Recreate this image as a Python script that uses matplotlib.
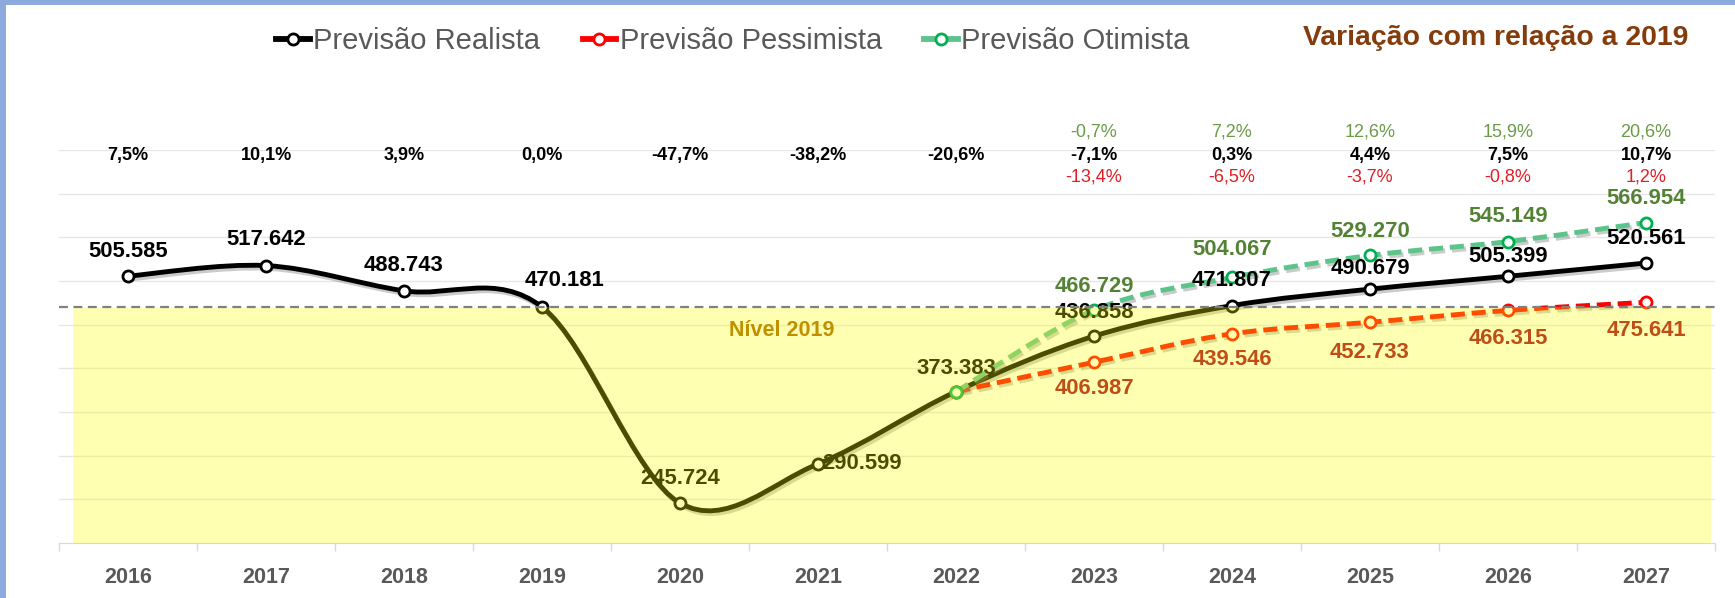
import numpy as np
import matplotlib
matplotlib.use('Agg')
import matplotlib.pyplot as plt
from matplotlib.path import Path
from matplotlib.patches import PathPatch, Rectangle
from matplotlib.lines import Line2D
import matplotlib.patheffects as pe
import matplotlib.transforms as mtransforms

plt.rcParams['font.family'] = ['Liberation Sans', 'DejaVu Sans']

# ---- data ----
anos = ['2016', '2017', '2018', '2019', '2020', '2021', '2022',
        '2023', '2024', '2025', '2026', '2027']
realista = [505585, 517642, 488743, 470181, 245724, 290599, 373383,
            436858, 471807, 490679, 505399, 520561]
pessimista = [373383, 406987, 439546, 452733, 466315, 475641]   # 2022-2027
otimista = [373383, 466729, 504067, 529270, 545149, 566954]     # 2022-2027
nivel_2019 = 470181

var_realista = ['7,5%', '10,1%', '3,9%', '0,0%', '-47,7%', '-38,2%', '-20,6%',
                '-7,1%', '0,3%', '4,4%', '7,5%', '10,7%']
var_pessimista = ['-13,4%', '-6,5%', '-3,7%', '-0,8%', '1,2%']   # 2023-2027
var_otimista = ['-0,7%', '7,2%', '12,6%', '15,9%', '20,6%']      # 2023-2027

x_all = np.arange(len(anos))
x_prev = x_all[6:]


def smooth_path(x, y):
    # excel-like smoothed line (cubic bezier through the points)
    pts = np.column_stack([x, y]).astype(float)
    n = len(pts)
    verts = [pts[0]]
    codes = [Path.MOVETO]
    for i in range(n - 1):
        p0 = pts[max(i - 1, 0)]
        p3 = pts[min(i + 2, n - 1)]
        c1 = pts[i] + (pts[i + 1] - p0) / 6
        c2 = pts[i + 1] - (p3 - pts[i]) / 6
        verts += [c1, c2, pts[i + 1]]
        codes += [Path.CURVE4] * 3
    return Path(verts, codes)


fig = plt.figure(figsize=(17.35, 5.98), dpi=100)
fig.patch.set_facecolor('white')
ax = fig.add_axes([59/1735, 1-543/598, (1715-59)/1735, (543-150)/598])
ax.set_xlim(-0.5, 11.5)
ax.set_ylim(200000, 650000)

# frame of the picture
fig.add_artist(Rectangle((0, 1-5/598), 1, 5/598, transform=fig.transFigure,
                         color='#8EA9DB', lw=0))
fig.add_artist(Rectangle((0, 0), 6/1735, 1, transform=fig.transFigure,
                         color='#8EA9DB', lw=0))

# grid / axes
ax.set_yticks(np.arange(250000, 650001, 50000))
ax.yaxis.grid(True, color='#E6E6E6', lw=1)
ax.tick_params(axis='y', left=False, labelleft=False)
for s in ['left', 'right', 'top']:
    ax.spines[s].set_visible(False)
ax.spines['bottom'].set_color('#D9D9D9')
ax.set_xticks(x_all)
ax.set_xticklabels(anos, fontsize=15.5, fontweight='bold', color='#595959')
ax.tick_params(axis='x', length=0, pad=17.5)
ax.set_xticks(np.arange(-0.5, 12, 1), minor=True)
ax.tick_params(axis='x', which='minor', length=6, color='#D9D9D9', width=1)
ax.set_axisbelow(True)

shadow = [pe.SimpleLineShadow(offset=(1.5, -2), shadow_color='#7F7F7F', alpha=0.4),
          pe.Normal()]

# lines
ax.add_patch(PathPatch(smooth_path(x_all, realista), fill=False, edgecolor='black',
                       lw=3.5, zorder=3, path_effects=shadow, capstyle='round'))
ax.add_patch(PathPatch(smooth_path(x_prev, pessimista), fill=False, edgecolor='#FF0000',
                       lw=3.5, ls=(0, (2.9, 1.4)), zorder=3, path_effects=shadow))
ax.add_patch(PathPatch(smooth_path(x_prev, otimista), fill=False, edgecolor='#5CC48A',
                       lw=3.5, ls=(0, (2.9, 1.4)), zorder=3, path_effects=shadow))

ax.plot(x_all, realista, 'o', ms=8, mfc='white', mec='black', mew=2, zorder=4)
ax.plot(x_prev, pessimista, 'o', ms=8, mfc='white', mec='#FF0000', mew=2, zorder=4)
ax.plot(x_prev, otimista, 'o', ms=8, mfc='white', mec='#00B050', mew=2, zorder=4)

# data labels
lbl = dict(fontsize=15.8, fontweight='bold', ha='center', va='center',
           textcoords='offset points', zorder=5)
off_real = [(0, 18), (0, 19), (0, 18), (16, 19), (0, 17.5), (32, 0), (0, 16.7),
            (0, 16.7), (0, 18), (0, 15), (0, 14.3), (0, 18)]
for xi, v, o in zip(x_all, realista, off_real):
    ax.annotate(f'{v:,}'.replace(',', '.'), (xi, v), xytext=o, color='black', **lbl)
off_otim = [None, (0, 17), (0, 20), (0, 17), (0, 18), (0, 17.5)]
for xi, v, o in zip(x_prev, otimista, off_otim):
    if o is not None:
        ax.annotate(f'{v:,}'.replace(',', '.'), (xi, v), xytext=o, color='#548235', **lbl)
off_pess = [None, (0, -19), (0, -18.4), (0, -21.5), (0, -20), (0, -20)]
for xi, v, o in zip(x_prev, pessimista, off_pess):
    if o is not None:
        ax.annotate(f'{v:,}'.replace(',', '.'), (xi, v), xytext=o, color='#A50021', **lbl)

# yellow zone below the 2019 level (translucent, in front of the lines)
ax.fill_between([-0.4, 11.47], 200000, nivel_2019, color='#FFFF00', alpha=0.3,
                lw=0, zorder=6)
ax.axhline(nivel_2019, color='#808080', lw=1.6, ls=(0, (4, 2.5)), zorder=7)
ax.text(4.74, 443870, 'Nível 2019', fontsize=15.5, fontweight='bold', color='#BF9000',
        ha='center', va='center', zorder=7)

# variation rows
trans = mtransforms.blended_transform_factory(ax.transData, ax.transAxes)
for xi, t in zip(x_all, var_realista):
    ax.text(xi, 0.985, t, transform=trans, fontsize=13, fontweight='bold',
            color='black', ha='center', va='center', clip_on=False)
for xi, t in zip(x_prev[1:], var_otimista):
    ax.text(xi, 1.046, t, transform=trans, fontsize=13, color='#6B9B47',
            ha='center', va='center', clip_on=False)
for xi, t in zip(x_prev[1:], var_pessimista):
    ax.text(xi, 0.931, t, transform=trans, fontsize=13, color='#E31E24',
            ha='center', va='center', clip_on=False)

fig.text(1688/1735, 1-45/598, 'Variação com relação a 2019', fontsize=20.4,
         fontweight='bold', color='#843C0C', ha='right', va='baseline')

# legend
handles = [
    Line2D([], [], color='black', lw=4.2, marker='o', ms=8, mfc='white', mec='black', mew=2),
    Line2D([], [], color='#FF0000', lw=4.2, marker='o', ms=8, mfc='white', mec='#FF0000', mew=2),
    Line2D([], [], color='#5CC48A', lw=4.2, marker='o', ms=8, mfc='white', mec='#00B050', mew=2),
]
leg = fig.legend(handles, ['Previsão Realista', 'Previsão Pessimista', 'Previsão Otimista'],
                 ncol=3, loc='center', bbox_to_anchor=(733/1735, 1-41/598), frameon=False,
                 fontsize=21, handlelength=1.15, handletextpad=0.12, columnspacing=1.45,
                 borderpad=0, borderaxespad=0)
for t in leg.get_texts():
    t.set_color('#595959')

fig.savefig('out.png', dpi=100)
